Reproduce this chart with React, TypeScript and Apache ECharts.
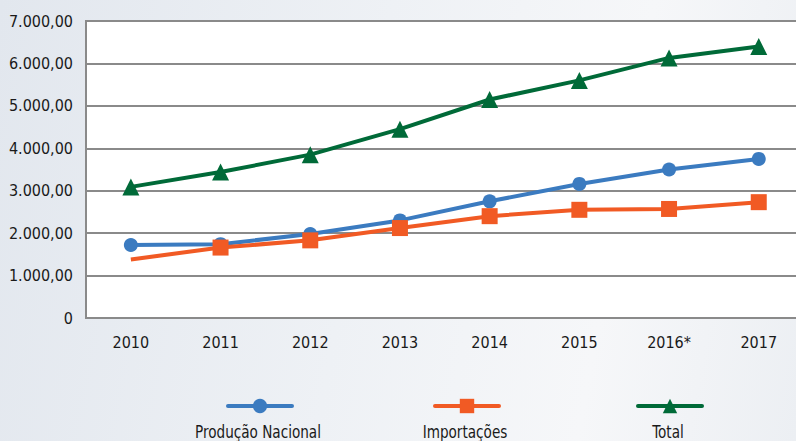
import React, { useEffect, useRef } from "react";
import * as echarts from "echarts";

const categories = ["2010", "2011", "2012", "2013", "2014", "2015", "2016*", "2017"];
const producaoNacional = [1720, 1740, 1980, 2300, 2750, 3160, 3500, 3750];
const importacoes = [1380, 1660, 1830, 2120, 2400, 2550, 2570, 2730];
const total = [3090, 3440, 3850, 4450, 5150, 5600, 6130, 6400];
const yTicks = [0, 1000, 2000, 3000, 4000, 5000, 6000, 7000];
const seriesNames = ["Produção Nacional", "Importações", "Total"];

const FONT = "'Liberation Sans Narrow', 'DejaVu Sans Condensed', Arial, sans-serif";
const BLUE = "#3b7bc0";
const ORANGE = "#f15a24";
const GREEN = "#006a38";

function fmt(v: number): string {
  if (v === 0) return "0";
  const s = Math.round(v).toString();
  const withDots = s.replace(/\B(?=(\d{3})+(?!\d))/g, ".");
  return withDots + ",00";
}

export default function App() {
  const ref = useRef<HTMLDivElement>(null);
  useEffect(() => {
    if (!ref.current) return;
    const chart = echarts.init(ref.current, undefined, { renderer: "svg" });
    const legendCenters = [258, 465, 668];
    const colors = [BLUE, ORANGE, GREEN];
    chart.setOption({
      animation: false,
      backgroundColor: "transparent",
      grid: {
        left: 86,
        top: 21,
        width: 717.6,
        height: 297,
        show: true,
        backgroundColor: "#ffffff",
        borderColor: "#8a8a8a",
        borderWidth: 2,
      },
      xAxis: {
        type: "category",
        data: categories,
        boundaryGap: true,
        axisLine: { lineStyle: { color: "#8a8a8a", width: 2 } },
        axisTick: { show: false },
        axisLabel: { color: "#1a1a1a", fontSize: 16, fontFamily: FONT, margin: 16 },
      },
      yAxis: {
        type: "value",
        min: yTicks[0],
        max: yTicks[yTicks.length - 1],
        interval: 1000,
        axisLine: { show: true, lineStyle: { color: "#8a8a8a", width: 2 } },
        axisTick: { show: false },
        splitLine: { lineStyle: { color: "#8a8a8a", width: 2 } },
        axisLabel: {
          color: "#1a1a1a",
          fontSize: 16,
          fontFamily: FONT,
          margin: 13,
          formatter: (v: number) => fmt(v),
        },
      },
      legend: seriesNames.map((n, i) => ({
        data: [n],
        left: legendCenters[i] - 32,
        top: 397,
        padding: 0,
        itemWidth: 64,
        itemHeight: 18,
        itemGap: 0,
        formatter: () => "",
        textStyle: { fontSize: 1 },
        lineStyle: { width: 4, cap: "round" },
        selectedMode: false,
      })),
      graphic: seriesNames.map((n, i) => ({
        type: "text",
        x: legendCenters[i],
        y: 432,
        scaleX: 0.84,
        style: {
          text: n,
          fill: "#1a1a1a",
          font: `18px ${FONT}`,
          textAlign: "center",
          textVerticalAlign: "middle",
        },
      })),
      series: [
        {
          name: seriesNames[0],
          type: "line",
          data: producaoNacional,
          symbol: "circle",
          symbolSize: 14,
          color: colors[0],
          lineStyle: { width: 4, color: colors[0] },
          itemStyle: { color: colors[0] },
          z: 2,
        },
        {
          name: seriesNames[1],
          type: "line",
          data: importacoes.map((v, i) => (i === 0 ? { value: v, symbol: "none" } : v)),
          symbol: "rect",
          symbolSize: 16,
          color: colors[1],
          lineStyle: { width: 4, color: colors[1] },
          itemStyle: { color: colors[1] },
          z: 3,
        },
        {
          name: seriesNames[2],
          type: "line",
          data: total,
          symbol: "triangle",
          symbolSize: 17,
          color: colors[2],
          lineStyle: { width: 4, color: colors[2] },
          itemStyle: { color: colors[2] },
          z: 4,
        },
      ],
    });
    return () => chart.dispose();
  }, []);
  return (
    <div
      style={{
        position: "absolute",
        left: 0,
        top: 0,
        width: 796,
        height: 441,
        overflow: "hidden",
        background: "linear-gradient(100deg, #e2e7ee 0%, #eef1f5 45%, #f6f7f9 75%, #eceff3 100%)",
      }}
    >
      <div ref={ref} style={{ width: 820, height: 441 }} />
    </div>
  );
}
